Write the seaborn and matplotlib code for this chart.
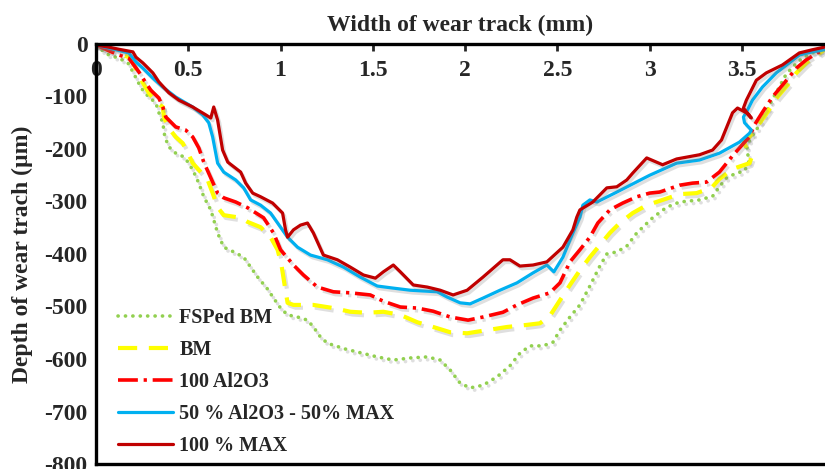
import matplotlib
matplotlib.use("Agg")
import matplotlib.pyplot as plt
import matplotlib.patheffects as pe
import seaborn as sns
import pandas as pd

# Wear-track profiles: width (mm) vs depth (µm)
fsp_x = [0.0, 0.07, 0.124, 0.173, 0.2, 0.227, 0.254, 0.286, 0.324, 0.341, 0.362, 0.373, 0.395, 0.432,
         0.476, 0.503, 0.53, 0.557, 0.584, 0.622, 0.638, 0.659, 0.692, 0.746, 0.8, 0.838, 0.876, 0.93,
         0.962, 1.0, 1.038, 1.092, 1.146, 1.178, 1.216, 1.254, 1.351, 1.443, 1.524, 1.611, 1.703, 1.795,
         1.865, 1.919, 1.973, 2.027, 2.097, 2.173, 2.243, 2.297, 2.351, 2.422, 2.476, 2.514, 2.568, 2.622,
         2.676, 2.73, 2.768, 2.822, 2.876, 2.93, 3.016, 3.092, 3.162, 3.27, 3.341, 3.378, 3.416, 3.47,
         3.514, 3.541, 3.524, 3.541, 3.578, 3.632, 3.665, 3.703, 3.73, 3.773, 3.827, 3.881, 3.946]
fsp_y = [-4, -21, -27, -36, -53, -72, -88, -101, -112, -131, -150, -177, -196, -208,
         -215, -227, -244, -265, -291, -316, -335, -360, -387, -396, -406, -425, -444, -467,
         -484, -503, -516, -520, -526, -539, -558, -570, -581, -589, -596, -602, -598, -596,
         -602, -621, -646, -655, -650, -634, -613, -589, -575, -575, -568, -545, -520, -497,
         -461, -423, -400, -396, -385, -360, -331, -311, -301, -297, -290, -272, -255, -246,
         -242, -221, -202, -183, -164, -130, -105, -82, -63, -44, -27, -17, -11]

bm_x = [0.0, 0.108, 0.178, 0.2, 0.227, 0.254, 0.286, 0.324, 0.362, 0.368, 0.389, 0.432, 0.47, 0.503,
        0.524, 0.568, 0.605, 0.632, 0.659, 0.692, 0.784, 0.822, 0.892, 0.946, 0.984, 1.005, 1.022,
        1.038, 1.07, 1.178, 1.286, 1.378, 1.47, 1.557, 1.649, 1.741, 1.827, 1.919, 2.011, 2.119,
        2.227, 2.335, 2.405, 2.459, 2.514, 2.568, 2.622, 2.676, 2.73, 2.784, 2.838, 2.908, 2.984,
        3.07, 3.162, 3.254, 3.335, 3.378, 3.449, 3.541, 3.551, 3.524, 3.508, 3.541, 3.568, 3.632,
        3.692, 3.757, 3.795, 3.849, 3.892, 3.946]
bm_y = [-2, -17, -25, -36, -55, -74, -93, -110, -120, -139, -158, -177, -189, -211,
        -227, -244, -259, -284, -311, -326, -331, -339, -349, -368, -392, -421, -459,
        -493, -497, -497, -503, -510, -512, -510, -516, -530, -539, -549, -551, -545,
        -539, -535, -532, -518, -488, -459, -431, -406, -383, -360, -341, -322, -307,
        -297, -286, -284, -274, -257, -238, -227, -217, -198, -185, -177, -164, -133,
        -101, -74, -55, -36, -25, -11]

al_x = [0.0, 0.124, 0.178, 0.205, 0.232, 0.27, 0.297, 0.341, 0.362, 0.378, 0.432, 0.486, 0.524,
        0.557, 0.584, 0.622, 0.659, 0.692, 0.757, 0.822, 0.908, 0.962, 1.0, 1.07, 1.124, 1.2, 1.286,
        1.378, 1.486, 1.557, 1.649, 1.741, 1.827, 1.919, 2.016, 2.097, 2.205, 2.281, 2.368, 2.459,
        2.514, 2.568, 2.622, 2.676, 2.719, 2.784, 2.854, 2.93, 3.0, 3.054, 3.162, 3.232, 3.308,
        3.378, 3.449, 3.514, 3.541, 3.568, 3.611, 3.665, 3.73, 3.795, 3.849, 3.908, 3.946]
al_y = [-2, -21, -27, -40, -53, -74, -88, -103, -120, -139, -158, -164, -177,
        -198, -225, -255, -284, -293, -301, -312, -331, -360, -392, -421, -440, -463, -472,
        -474, -478, -490, -501, -503, -509, -520, -526, -520, -511, -497, -484, -474,
        -455, -415, -392, -368, -341, -316, -303, -291, -284, -282, -269, -265, -263,
        -244, -213, -187, -177, -154, -130, -101, -74, -46, -30, -17, -11]

mix_x = [0.0, 0.108, 0.178, 0.216, 0.254, 0.308, 0.362, 0.432, 0.524, 0.578, 0.611, 0.632, 0.659,
         0.692, 0.757, 0.8, 0.838, 0.892, 0.946, 1.0, 1.038, 1.092, 1.162, 1.254, 1.341, 1.432, 1.524,
         1.611, 1.703, 1.849, 1.903, 1.973, 2.027, 2.097, 2.189, 2.281, 2.368, 2.443, 2.481, 2.53,
         2.584, 2.622, 2.638, 2.676, 2.714, 2.822, 3.0, 3.146, 3.27, 3.378, 3.486, 3.541, 3.551,
         3.514, 3.508, 3.524, 3.557, 3.611, 3.686, 3.757, 3.811, 3.881, 3.946]
mix_y = [-2, -11, -17, -34, -46, -65, -82, -101, -120, -135, -150, -177, -227,
         -244, -259, -274, -297, -307, -322, -349, -368, -387, -402, -411, -425, -444, -461,
         -465, -469, -472, -482, -493, -495, -484, -469, -455, -436, -421, -434, -406,
         -360, -330, -307, -297, -301, -282, -250, -227, -221, -208, -187, -170, -164,
         -150, -139, -130, -107, -82, -55, -36, -21, -15, -11]

max_x = [0.0, 0.07, 0.124, 0.2, 0.216, 0.254, 0.308, 0.34, 0.395, 0.449, 0.524, 0.595, 0.622, 0.638,
         0.659, 0.686, 0.714, 0.784, 0.811, 0.849, 0.892, 0.957, 1.011, 1.027, 1.038, 1.07, 1.108,
         1.146, 1.178, 1.232, 1.308, 1.378, 1.449, 1.514, 1.557, 1.611, 1.649, 1.719, 1.795, 1.865,
         1.935, 2.011, 2.097, 2.205, 2.243, 2.297, 2.368, 2.443, 2.53, 2.584, 2.605, 2.622, 2.692,
         2.768, 2.822, 2.876, 2.908, 2.984, 3.07, 3.146, 3.27, 3.341, 3.389, 3.449, 3.476, 3.524,
         3.551, 3.508, 3.524, 3.578, 3.632, 3.719, 3.811, 3.881, 3.946]
max_y = [-2, -6, -10, -15, -25, -36, -55, -72, -93, -107, -120, -135, -141, -120,
         -145, -202, -225, -244, -265, -284, -291, -303, -322, -354, -368, -354, -345,
         -341, -360, -402, -411, -425, -440, -446, -434, -421, -434, -459, -463, -469,
         -478, -469, -444, -411, -411, -423, -421, -415, -387, -354, -330, -316, -301,
         -274, -272, -259, -246, -217, -230, -219, -211, -202, -183, -131, -122, -131,
         -141, -122, -107, -69, -55, -40, -17, -11, -6]

series_names = ["FSPed BM", "BM", "100 Al2O3", "50 % Al2O3 - 50% MAX", "100 % MAX"]
series_x = [fsp_x, bm_x, al_x, mix_x, max_x]
series_y = [fsp_y, bm_y, al_y, mix_y, max_y]

x_ticks = [0, 0.5, 1, 1.5, 2, 2.5, 3, 3.5]
x_tick_labels = ["0", "0.5", "1", "1.5", "2", "2.5", "3", "3.5"]
y_ticks = [0, -100, -200, -300, -400, -500, -600, -700, -800]
y_tick_labels = ["0", "-100", "-200", "-300", "-400", "-500", "-600", "-700", "-800"]

colors = ["#92D050", "#FFFF00", "#FF0000", "#00B0F0", "#C00000"]
styles = [
    dict(lw=2.6, ls=(0, (0.05, 2.0)), cap="round"),
    dict(lw=3.0, ls=(0, (4.6, 2.8)), cap="butt"),
    dict(lw=2.6, ls=(0, (5.5, 1.6, 0.9, 1.6)), cap="butt"),
    dict(lw=2.3, ls="-", cap="butt"),
    dict(lw=2.3, ls="-", cap="butt"),
]

sns.set_style("white")
plt.rcParams["font.family"] = ["Liberation Serif", "DejaVu Serif"]
plt.rcParams["font.weight"] = "bold"
plt.rcParams["axes.unicode_minus"] = False

fig = plt.figure(figsize=(8.25, 4.69), dpi=100)
ax = fig.add_axes([96 / 825, 1 - 464 / 469, 1 - 96 / 825, (464 - 44) / 469])

shadow = [pe.SimpleLineShadow(offset=(1.5, -2.0), shadow_color="#808080", alpha=0.25),
          pe.Normal()]

for name, xs, ys, col, st in zip(series_names, series_x, series_y, colors, styles):
    df = pd.DataFrame({"width": xs, "depth": ys})
    sns.lineplot(data=df, x="width", y="depth", sort=False, estimator=None,
                 color=col, ax=ax, label=name)
    line = ax.lines[-1]
    line.set_linewidth(st["lw"])
    line.set_linestyle(st["ls"])
    line.set_dash_capstyle(st["cap"])
    line.set_solid_joinstyle("round")
    line.set_path_effects(shadow)

ax.set_xlim(0, 3.95)
ax.set_ylim(-800, 0)

ax.xaxis.set_ticks_position("top")
ax.xaxis.set_label_position("top")
ax.set_xticks(x_ticks)
ax.set_xticklabels(x_tick_labels)
ax.set_yticks(y_ticks)
ax.set_yticklabels(y_tick_labels)

ax.tick_params(axis="x", which="both", direction="in", length=5, width=2,
               labelsize=17, pad=-26.5, top=True, bottom=False,
               labeltop=True, labelbottom=False)
ax.tick_params(axis="y", direction="in", length=5, width=2, labelsize=17, pad=6)
for lab in ax.get_xticklabels() + ax.get_yticklabels():
    lab.set_fontweight("bold")

ax.set_xlabel("Width of wear track (mm)", fontsize=17, fontweight="bold", labelpad=9)
ax.set_ylabel("Depth of wear trach (µm)", fontsize=17, fontweight="bold", labelpad=8)

for side in ["left", "bottom", "top"]:
    ax.spines[side].set_visible(True)
    ax.spines[side].set_color("black")
    ax.spines[side].set_linewidth(2.4)
ax.spines["right"].set_visible(False)
ax.grid(False)

leg = ax.legend(loc="upper left", bbox_to_anchor=(118 / 825, 1 - 308 / 469),
                bbox_transform=fig.transFigure, frameon=False,
                prop={"family": "Liberation Serif", "weight": "bold", "size": 14.5},
                handlelength=2.75, handletextpad=0.3, labelspacing=0.6,
                borderpad=0, borderaxespad=0)
for h in leg.get_lines():
    h.set_path_effects([pe.Normal()])

fig.savefig("out.png", dpi=100)
